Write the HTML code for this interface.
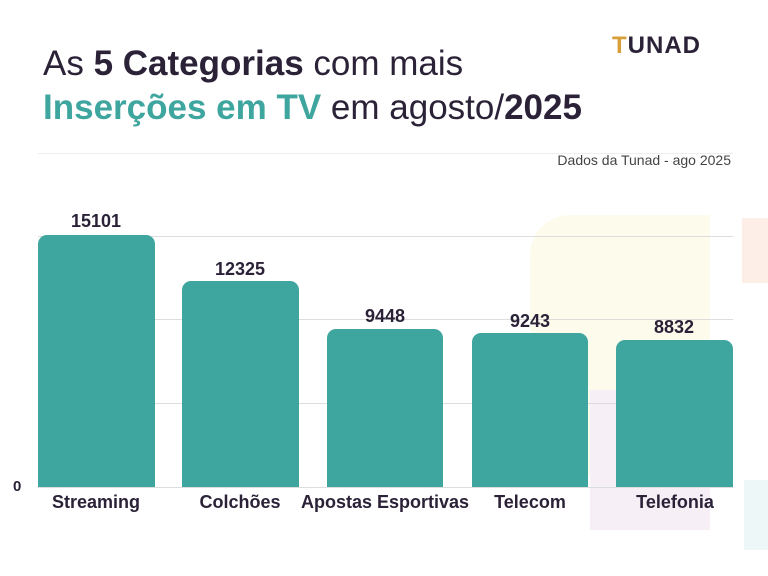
<!DOCTYPE html>
<html><head><meta charset="utf-8"><style>
body{margin:0;width:768px;height:576px;background:#fff;position:relative;overflow:hidden;font-family:"Liberation Sans",sans-serif;color:#2b2238}
.a{position:absolute;white-space:nowrap}
.t{font-size:35px;letter-spacing:0px}
.bar{position:absolute;background:#3fa59f;border-radius:9px 9px 0 0}
.v{position:absolute;font-weight:bold;font-size:18px;text-align:center;width:120px}
.l{position:absolute;font-weight:bold;font-size:18px;text-align:center;top:492px}
.g{position:absolute;left:38px;width:695px;height:1px;background:#ddd}
</style></head><body>
<div class="a" style="left:530px;top:215px;width:180px;height:260px;background:#fdfbec;border-radius:40px 0 0 0"></div>
<div class="a" style="left:742px;top:218px;width:26px;height:65px;background:#fdeee8"></div>
<div class="a" style="left:590px;top:390px;width:120px;height:140px;background:#f6f0f6"></div>
<div class="a" style="left:744px;top:480px;width:24px;height:70px;background:#eef7f7"></div>
<div class="a t" style="left:43px;top:44px">As <b>5 Categorias</b> com mais</div>
<div class="a t" style="left:43px;top:88px"><b style="color:#3fa59f">Inserções em TV</b> em agosto/<b>2025</b></div>
<div class="a" style="left:612px;top:32px;font-size:24px;font-weight:bold;letter-spacing:1px;color:#2b2238"><span style="color:#d9a03a">T</span>UNAD</div>
<div class="g" style="top:153px;background:#eee"></div>
<div class="a" style="right:37px;top:152px;font-size:14px;color:#444">Dados da Tunad - ago 2025</div>
<div class="g" style="top:236px"></div>
<div class="g" style="top:319px"></div>
<div class="g" style="top:403px"></div>
<div class="g" style="top:487px"></div>
<div class="a" style="left:13px;top:478px;font-weight:bold;font-size:15px">0</div>
<div class="bar" style="left:38px;top:235px;width:117px;height:252px"></div>
<div class="bar" style="left:182px;top:281px;width:117px;height:206px"></div>
<div class="bar" style="left:327px;top:329px;width:116px;height:158px"></div>
<div class="bar" style="left:472px;top:333px;width:116px;height:154px"></div>
<div class="bar" style="left:616px;top:340px;width:117px;height:147px"></div>
<div class="v" style="left:36px;top:211px">15101</div>
<div class="v" style="left:180px;top:259px">12325</div>
<div class="v" style="left:325px;top:306px">9448</div>
<div class="v" style="left:470px;top:311px">9243</div>
<div class="v" style="left:614px;top:317px">8832</div>
<div class="l" style="left:36px;width:120px">Streaming</div>
<div class="l" style="left:180px;width:120px">Colchões</div>
<div class="l" style="left:290px;width:190px">Apostas Esportivas</div>
<div class="l" style="left:470px;width:120px">Telecom</div>
<div class="l" style="left:615px;width:120px">Telefonia</div>
</body></html>
